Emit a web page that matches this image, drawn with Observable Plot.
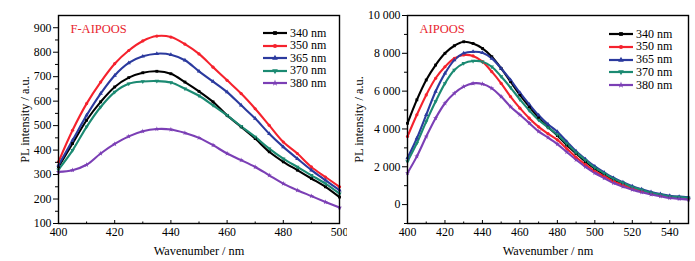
<!DOCTYPE html>
<html><head><meta charset="utf-8">
<script src="https://cdn.jsdelivr.net/npm/d3@7"></script>
<script src="https://cdn.jsdelivr.net/npm/@observablehq/plot@0.6"></script>
<style>
body{margin:0;background:#fff;}
#wrap{position:relative;width:695px;height:261px;display:flex;font-family:"Liberation Serif","Times New Roman",serif;}
.panel{position:relative;}
.legend{position:absolute;font-size:12px;color:#000;}
.legend .row{position:absolute;left:0;height:12px;display:flex;align-items:center;white-space:nowrap;}
.legend svg{display:block;margin-right:3px;}
</style></head><body>
<div id="wrap"><div class="panel" id="left"></div><div class="panel" id="right"></div></div>
<script>
// ---------- data ----------
const seriesNames = ["340 nm", "350 nm", "365 nm", "370 nm", "380 nm"];
const seriesColors = ["#000000", "#f5222d", "#2b3a9e", "#1b8a72", "#7b3fb5"];

const leftX = [400,405,410,415,420,425,430,435,440,445,450,455,460,465,470,475,480,485,490,495,500];
const left340 = [331,427,522,597,658,696,716,722,712,678,640,597,542,495,447,393,352,318,284,250,208];
const left350 = [352,481,590,678,753,807,846,866,862,833,793,739,685,631,569,501,433,386,331,290,250];
const left365 = [338,440,542,631,705,756,783,794,790,767,722,680,637,583,529,467,413,365,318,277,236];
const left370 = [320,399,495,576,637,671,680,682,676,651,622,583,542,497,454,406,365,331,297,263,222];
const left380 = [311,318,340,386,425,456,477,486,484,470,450,420,386,359,331,297,263,236,212,188,165];

const rightX = [400,405,410,415,420,425,430,435,440,445,450,455,460,465,470,475,480,485,490,495,500,505,510,515,520,525,530,535,540,545,550];
const right340 = [4300,5540,6590,7380,8000,8400,8610,8520,8260,7820,7200,6500,5800,5180,4600,4100,3650,3150,2700,2270,1900,1590,1320,1090,900,740,610,510,430,370,330];
const right350 = [3600,4750,5800,6680,7290,7730,7910,7860,7560,7030,6410,5710,5100,4570,4110,3750,3420,2960,2500,2120,1760,1500,1230,1040,860,710,580,490,420,360,320];
const right365 = [2460,3510,4750,5980,6940,7640,8000,8080,8030,7730,7200,6590,5920,5300,4720,4250,3850,3330,2820,2400,2020,1700,1410,1180,970,810,670,560,470,420,390];
const right370 = [2280,3250,4390,5450,6410,7120,7470,7590,7560,7290,6770,6190,5560,4980,4480,4080,3700,3230,2760,2350,1950,1660,1370,1150,930,780,620,530,430,400,350];
const right380 = [1670,2550,3600,4570,5360,5890,6240,6410,6380,6150,5710,5180,4750,4310,3870,3550,3200,2780,2370,2000,1670,1400,1140,950,790,650,530,440,350,300,260];

const leftXTicks = [400,420,440,460,480,500];
const leftXMinor = [410,430,450,470,490];
const leftYTicks = [100,200,300,400,500,600,700,800,900];
const leftYMinor = [150,250,350,450,550,650,750,850];
const rightXTicks = [400,420,440,460,480,500,520,540];
const rightXMinor = [410,430,450,470,490,510,530,550];
const rightYTicks = [0,2000,4000,6000,8000,10000];
const rightYMinor = [-1000,1000,3000,5000,7000,9000];

// ---------- helpers ----------
const triangleDown = {
  draw(context, size) {
    const y = -Math.sqrt(size / (3 * Math.sqrt(3)));
    context.moveTo(0, -y * 2);
    context.lineTo(-Math.sqrt(3) * y, y);
    context.lineTo(Math.sqrt(3) * y, y);
    context.closePath();
  }
};
const seriesSymbols = ["square", "circle", "triangle", triangleDown, "star"];

function toLong(xs, arrays) {
  const out = [];
  arrays.forEach((arr, i) => arr.forEach((v, j) => out.push({series: seriesNames[i], x: xs[j], y: v})));
  return out;
}
const spaceFmt = d => d3.format(",")(d).replace(/,/g, " ");

function panel(o) {
  const data = toLong(o.xs, o.arrays);
  const font = "Liberation Serif";
  return Plot.plot({
    width: o.width, height: 261,
    marginLeft: o.marginLeft, marginRight: o.marginRight, marginTop: 15, marginBottom: 38,
    style: {fontFamily: font, fontSize: "12px", color: "#000", background: "#fff", overflow: "visible"},
    x: {domain: o.xDomain},
    y: {domain: o.yDomain},
    color: {domain: seriesNames, range: seriesColors},
    symbol: {domain: seriesNames, range: seriesSymbols},
    marks: [
      Plot.line(data, {x: "x", y: "y", stroke: "series", strokeWidth: 2.1, curve: "catmull-rom"}),
      Plot.dot(data, {x: "x", y: "y", fill: "series", symbol: "series", r: 1.6, stroke: "none"}),
      Plot.frame({stroke: "#000", strokeWidth: 1.4}),
      Plot.axisY(o.yTicks, {tickSize: 5, tickPadding: 2, tickFormat: o.yFormat, label: null, fontSize: 11.8}),
      Plot.axisY(o.yTicks, {tickSize: 0, tickFormat: () => "", label: "PL intensity / a.u.",
        labelAnchor: "center", labelArrow: "none", labelOffset: o.yLabelOffset, fontSize: 12.3}),
      Plot.axisY(o.yMinor, {tickSize: 3, tickFormat: () => "", label: null}),
      Plot.axisX(o.xTicks, {tickSize: 0, tickPadding: 4, label: null, fontSize: 11.8}),
      Plot.axisX(o.xTicks, {tickSize: 0, tickFormat: () => "", label: "Wavenumber / nm", labelAnchor: "center",
        labelArrow: "none", labelOffset: 31, fontSize: 12.3}),
      Plot.axisX(o.xTicks, {anchor: "top", frameAnchor: "bottom", tickSize: 4, tickFormat: () => "", label: null}),
      Plot.axisX(o.xMinor, {anchor: "top", frameAnchor: "bottom", tickSize: 2.5, tickFormat: () => "", label: null}),
      Plot.text([o.title], {frameAnchor: "top-left", dx: 12, dy: 13, lineAnchor: "middle", textAnchor: "start",
        fill: "#e8262e", fontSize: 12.5, fontFamily: font})
    ]
  });
}

function legend(container, left, top, step) {
  const lg = d3.select(container).append("div").attr("class", "legend").style("left", left + "px").style("top", top + "px");
  seriesNames.forEach((name, i) => {
    const row = lg.append("div").attr("class", "row").style("top", (i * step - 6) + "px");
    const svg = row.append("svg").attr("width", 24).attr("height", 8);
    svg.append("line").attr("x1", 0).attr("x2", 24).attr("y1", 4).attr("y2", 4)
      .attr("stroke", seriesColors[i]).attr("stroke-width", 2.2);
    const sym = typeof seriesSymbols[i] === "string"
      ? {square: d3.symbolSquare, circle: d3.symbolCircle, triangle: d3.symbolTriangle, star: d3.symbolStar}[seriesSymbols[i]]
      : seriesSymbols[i];
    svg.append("path").attr("d", d3.symbol(sym, 14)()).attr("transform", "translate(12,4)").attr("fill", seriesColors[i]);
    row.append("span").text(name);
  });
}

const leftEl = document.getElementById("left");
leftEl.append(panel({
  width: 347, marginLeft: 58, marginRight: 8,
  xs: leftX, arrays: [left340, left350, left365, left370, left380],
  xDomain: [400, 500], yDomain: [100, 950],
  xTicks: leftXTicks, xMinor: leftXMinor, yTicks: leftYTicks, yMinor: leftYMinor,
  yFormat: d => String(d), yLabelOffset: 38, title: "F-AIPOOS"
}));
legend(leftEl, 263, 33, 12.5);

const rightEl = document.getElementById("right");
rightEl.append(panel({
  width: 348, marginLeft: 60, marginRight: 7,
  xs: rightX, arrays: [right340, right350, right365, right370, right380],
  xDomain: [400, 550], yDomain: [-1000, 10000],
  xTicks: rightXTicks, xMinor: rightXMinor, yTicks: rightYTicks, yMinor: rightYMinor,
  yFormat: spaceFmt, yLabelOffset: 53, title: "AIPOOS"
}));
legend(rightEl, 262, 34, 12.75);
</script>
</body></html>
